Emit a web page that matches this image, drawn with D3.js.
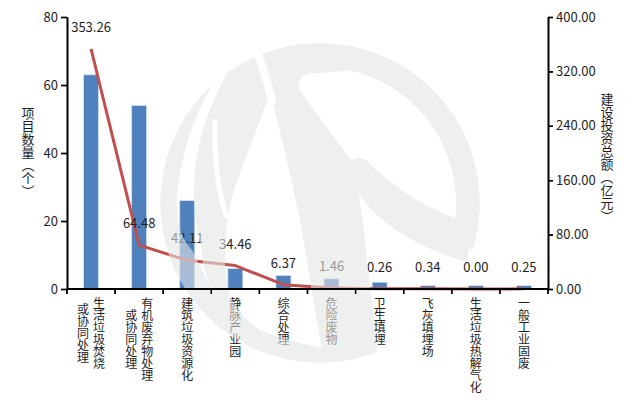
<!DOCTYPE html>
<html>
<head>
<meta charset="utf-8">
<script src="https://cdn.jsdelivr.net/npm/d3@7"></script>
<style>
  body { margin: 0; background: #fff; }
  svg { display: block; }
  text { font-family: "Noto Sans CJK SC", "Noto Sans", sans-serif; fill: #1e1e1e; }
</style>
</head>
<body>
<svg id="chart" width="640" height="407"></svg>
<script>
// Categories (line breaks split a label into vertical columns)
const categories = [
  "生活垃圾焚烧\n或协同处理",
  "有机废弃物处理\n或协同处理",
  "建筑垃圾资源化",
  "静脉产业园",
  "综合处理",
  "危险废物",
  "卫生填埋",
  "飞灰填埋场",
  "生活垃圾热解气化",
  "一般工业固废"
];
// Number of projects (bars, left axis)
const projectCounts = [63, 54, 26, 6, 4, 3, 2, 1, 1, 1];
// Total construction investment, 100 million yuan (line, right axis)
const investment = [353.26, 64.48, 42.11, 34.46, 6.37, 1.46, 0.26, 0.34, 0.00, 0.25];
const countTicks = [0, 20, 40, 60, 80];
const investTicks = [0, 80, 160, 240, 320, 400];
const leftTitle = "项目数量（个）";
const rightTitle = "建设投资总额（亿元）";

const svg = d3.select("#chart");
const plot = { left: 67, right: 548, top: 17, bottom: 289 };

const x = d3.scaleBand().domain(categories).range([plot.left, plot.right]);
const yCount = d3.scaleLinear().domain([0, 80]).range([plot.bottom, plot.top]);
const yInvest = d3.scaleLinear().domain([0, 400]).range([plot.bottom, plot.top]);
const cx = c => x(c) + x.bandwidth() / 2;
const barW = 15;

// Bars
svg.append("g").selectAll("rect")
  .data(categories)
  .join("rect")
  .attr("x", c => cx(c) - barW / 2)
  .attr("y", (c, i) => yCount(projectCounts[i]))
  .attr("width", barW)
  .attr("height", (c, i) => plot.bottom - yCount(projectCounts[i]))
  .attr("fill", "#4f81bd")
  .attr("stroke", "#d6e1ef")
  .attr("stroke-width", 0.8);

// Investment line
const line = d3.line()
  .x((d, i) => cx(categories[i]))
  .y(d => yInvest(d));
svg.append("path")
  .datum(investment)
  .attr("d", line)
  .attr("fill", "none")
  .attr("stroke", "#c0504d")
  .attr("stroke-width", 3)
  .attr("stroke-linejoin", "round");

// Value labels above line points
svg.append("g").selectAll("text")
  .data(investment)
  .join("text")
  .attr("x", (d, i) => cx(categories[i]))
  .attr("y", d => yInvest(d) - 17)
  .attr("text-anchor", "middle")
  .attr("font-size", 13)
  .text(d => d3.format(".2f")(d));

// Axes
function styleAxis(g) {
  g.select(".domain").attr("stroke", "#000").attr("stroke-width", 1.6);
  g.selectAll(".tick line").attr("stroke", "#000").attr("stroke-width", 1.4);
  g.selectAll(".tick text").attr("font-size", 13).attr("fill", "#1e1e1e")
    .style("font-family", '"Noto Sans CJK SC", "Noto Sans", sans-serif');
}
function drawAxes(layer, withText) {
  const left = d3.axisLeft(yCount).tickValues(countTicks).tickSize(6).tickPadding(3).tickSizeOuter(0);
  const right = d3.axisRight(yInvest).tickValues(investTicks).tickSize(5).tickPadding(3).tickSizeOuter(0)
    .tickFormat(d3.format(".2f"));
  if (!withText) { left.tickFormat(() => ""); right.tickFormat(() => ""); }
  layer.append("g").attr("transform", `translate(${plot.left},0)`).call(left).call(styleAxis);
  layer.append("g").attr("transform", `translate(${plot.right},0)`).call(right).call(styleAxis);
  // Category axis: baseline with ticks at band boundaries
  const bounds = categories.map(c => x(c)).concat([plot.right]);
  layer.append("line")
    .attr("x1", plot.left).attr("x2", plot.right)
    .attr("y1", plot.bottom).attr("y2", plot.bottom)
    .attr("stroke", "#000").attr("stroke-width", 1.8);
  layer.append("g").selectAll("line")
    .data(bounds)
    .join("line")
    .attr("x1", d => d).attr("x2", d => d)
    .attr("y1", plot.bottom).attr("y2", plot.bottom + 5)
    .attr("stroke", "#000").attr("stroke-width", 1.4);
}
drawAxes(svg, true);

// Category labels, vertical columns; the first column is on the right
const labelTop = 297, charPitch = 12, colGap = 16;
const catG = svg.append("g");
categories.forEach(c => {
  const cols = c.split("\n");
  const maxLen = d3.max(cols, s => s.length);
  cols.forEach((s, i) => {
    catG.append("text")
      .attr("x", cx(c) + (cols.length - 1) / 2 * colGap - i * colGap)
      .attr("y", labelTop + maxLen * charPitch / 2)
      .attr("text-anchor", "middle")
      .attr("font-size", 12)
      .style("writing-mode", "vertical-rl")
      .text(s);
  });
});

// Axis titles
svg.append("text")
  .attr("x", 28).attr("y", 152)
  .attr("text-anchor", "middle").attr("font-size", 13)
  .style("writing-mode", "vertical-rl")
  .text(leftTitle);
svg.append("text")
  .attr("x", 607).attr("y", 158)
  .attr("text-anchor", "middle").attr("font-size", 13)
  .style("writing-mode", "vertical-rl")
  .text(rightTitle);

// Logo watermark laid over the plot: a disc with an S-shaped cut-out
const wm = { x: 320, y: 203, r: 160 };
const defs = svg.append("defs");
const mask = defs.append("mask").attr("id", "logo-mask")
  .attr("maskUnits", "userSpaceOnUse")
  .attr("x", 0).attr("y", 0).attr("width", 640).attr("height", 407);
mask.append("rect").attr("width", 640).attr("height", 407).attr("fill", "#000");
mask.append("circle").attr("cx", wm.x).attr("cy", wm.y).attr("r", wm.r).attr("fill", "#fff");
// upper-right opening
mask.append("path")
  .attr("d", "M300,90 C296,78 305,72 318,73 L490,60 L490,380 L380,380 C374,320 368,270 364,230 C360,200 356,178 352,162 C335,138 315,112 300,90 Z")
  .attr("fill", "#000");
// outer ring over the top and right
const a0 = -105 * Math.PI / 180, a1 = 17 * Math.PI / 180, rr = 148;
mask.append("path")
  .attr("d", `M${wm.x + rr * Math.cos(a0)},${wm.y + rr * Math.sin(a0)} A${rr},${rr} 0 0 1 ${wm.x + rr * Math.cos(a1)},${wm.y + rr * Math.sin(a1)}`)
  .attr("fill", "none").attr("stroke", "#fff").attr("stroke-width", 24);
// finger reaching in from the right
mask.append("path")
  .attr("d", "M348,172 C346,160 358,154 367,161 C395,188 430,212 468,222 L468,262 C430,252 392,232 370,208 C360,196 350,185 348,172 Z")
  .attr("fill", "#fff");
// middle opening between the left swooshes and the S band
mask.append("path")
  .attr("d", "M270,92 C282,140 300,210 306,255 C311,290 318,325 322,348 C300,343 280,338 262,331 C240,318 228,300 226,275 C222,240 228,200 245,160 C255,135 264,110 270,92 Z")
  .attr("fill", "#000");
// opening between the outer crescent and the inner swoosh
mask.append("path")
  .attr("d", "M225,64 C208,90 190,125 183,160 C177,185 174,210 180,230 C184,240 188,246 192,250 C198,262 204,274 210,285 C204,268 201,258 202,250 C199,238 195,222 194,205 C193,180 195,150 208,115 C214,98 222,82 232,64 Z")
  .attr("fill", "#000");
// thin swoosh gaps
const gaps = [
  { d: "M215,122 C214,160 218,190 226,215", w: 5 },
  { d: "M254,42 C262,65 267,80 272,100", w: 8 }
];
gaps.forEach(g => mask.append("path").attr("d", g.d).attr("fill", "none")
  .attr("stroke", "#000").attr("stroke-width", g.w).attr("stroke-linecap", "round"));
// keep everything inside the disc
mask.append("path")
  .attr("d", `M0,0 H640 V407 H0 Z M${wm.x - wm.r},${wm.y} a${wm.r},${wm.r} 0 1 0 ${2 * wm.r},0 a${wm.r},${wm.r} 0 1 0 ${-2 * wm.r},0 Z`)
  .attr("fill", "#000").attr("fill-rule", "evenodd");

svg.append("rect")
  .attr("width", 640).attr("height", 407)
  .attr("fill", "#e4e5e5").attr("opacity", 0.6)
  .attr("mask", "url(#logo-mask)");

// Axis lines stay crisp above the watermark
drawAxes(svg.append("g"), false);
</script>
</body>
</html>
